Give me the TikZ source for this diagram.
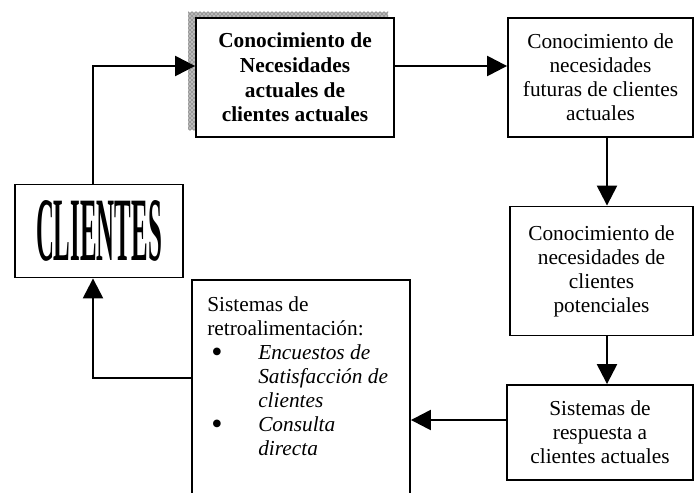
\documentclass[tikz,border=0pt]{standalone}
\usepackage{fontspec}
\usepackage{graphicx}
\setmainfont{Liberation Serif}
\usetikzlibrary{arrows.meta,patterns}
\newcommand{\bigbul}{\raisebox{-2.2pt}[0pt][0pt]{\scalebox{1.5}{\textbullet}}}
\tikzset{
  flowbox/.style={draw, line width=1.4pt, fill=white, inner sep=0pt, align=center,
    font=\fontsize{16}{18}\selectfont},
  flowarrow/.style={line width=1.8pt, -{Triangle[length=15pt,width=15pt]}},
}
\begin{document}
\begin{tikzpicture}[x=0.75pt,y=-0.75pt]
\clip (0,0) rectangle (695,492);
\fill[white] (0,0) rectangle (695,492);
% textured shadow band of the first box
\fill[gray!55] (188,12) rectangle (388,130);
\fill[pattern=crosshatch dots, pattern color=black!80] (188,12) rectangle (388,130);
\node[flowbox, minimum width=148.5pt, minimum height=89.25pt,
      font=\fontsize{16}{18.4}\selectfont\bfseries] (A) at (295,77.5)
  {Conocimiento de\\Necesidades\\actuales de\\clientes actuales};
\node[flowbox, minimum width=138.75pt, minimum height=89.25pt] (B) at (600.5,77.5)
  {Conocimiento de\\necesidades\\futuras de clientes\\actuales};
\node[flowbox, minimum width=137.25pt, minimum height=96.75pt] (C) at (601.5,271)
  {Conocimiento de\\necesidades de\\clientes\\potenciales};
\node[flowbox, minimum width=139.5pt, minimum height=71.25pt] (D) at (600,432.5)
  {Sistemas de\\respuesta a\\clientes actuales};
\node[flowbox, minimum width=163.5pt, minimum height=165pt] (E) at (301,390) {};
\node[inner sep=0pt, anchor=north west, align=left, font=\fontsize{16}{18}\selectfont] (Et) at (207,296)
  {Sistemas de\\
   retroalimentación:\\
   \hspace*{3pt}\makebox[35.25pt][l]{\bigbul}\textit{Encuestos de}\\
   \hspace*{38.25pt}\textit{Satisfacción de}\\
   \hspace*{38.25pt}\textit{clientes}\\
   \hspace*{3pt}\makebox[35.25pt][l]{\bigbul}\textit{Consulta}\\
   \hspace*{38.25pt}\textit{directa}};
\node[flowbox, minimum width=126pt, minimum height=69.75pt] (F) at (99,231)
  {\resizebox{94.5pt}{45pt}{\bfseries CLIENTES}};
% connectors
\coordinate (k1) at (93,66);
\coordinate (k2) at (0,420);
\coordinate (k3) at (93,378);
\coordinate (k4) at (607,0);
\draw[flowarrow] (k1 |- F.north) -- (k1) -- (k1 -| A.west);
\draw[flowarrow] (k1 -| A.east) -- (k1 -| B.west);
\draw[flowarrow] (k4 |- B.south) -- (k4 |- C.north);
\draw[flowarrow] (k4 |- C.south) -- (k4 |- D.north);
\draw[flowarrow] (k2 -| D.west) -- (k2 -| E.east);
\draw[flowarrow] (k3 -| E.west) -- (k3) -- (k3 |- F.south);
\end{tikzpicture}
\end{document}
